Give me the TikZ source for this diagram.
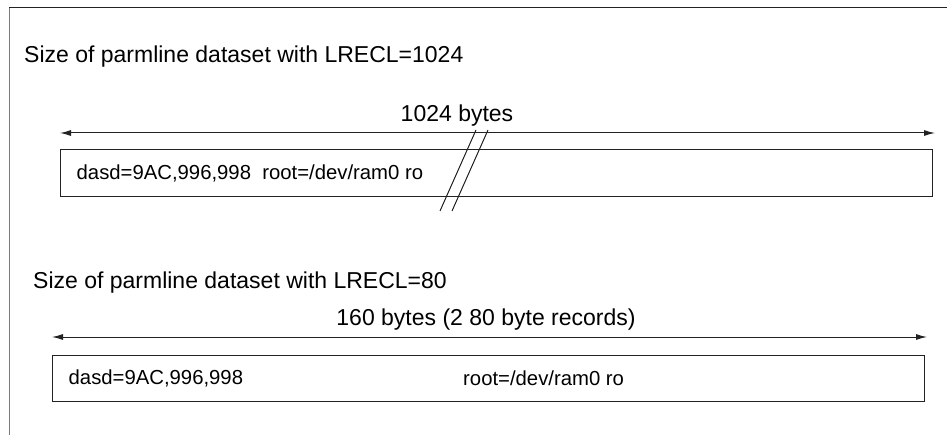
\documentclass[tikz,border=0pt]{standalone}
\usepackage{fontspec}
\setmainfont{Liberation Sans}
\usetikzlibrary{arrows.meta}
\definecolor{framegray}{HTML}{7A7A7A}
\definecolor{linedark}{HTML}{222222}

\begin{document}
\begin{tikzpicture}[x=1pt, y=-1pt,
        txt/.style={font=\fontsize{23}{27}\selectfont, inner sep=0pt},
        rectxt/.style={font=\fontsize{20.3}{24}\selectfont, inner sep=0pt},
        recbox/.style={draw=linedark, line width=1pt, inner sep=0pt},
        dimarrow/.style={draw=linedark, line width=1pt, {Latex[length=11pt,width=6pt]}-{Latex[length=11pt,width=6pt]}},
      ]
      \useasboundingbox (0,0) rectangle (947,435);
      \draw[framegray, line width=1pt] (9,435) -- (9,8);
      \draw[linedark, line width=1pt] (9,8) -- (947,8);
      % LRECL=1024
      \node[txt, anchor=west] (title1) at (24,57) {Size of parmline dataset with LRECL=1024};
      \coordinate (a1l) at (60,133);
      \coordinate (a1r) at (935,133);
      \draw[dimarrow] (a1l) -- (a1r);
      \node[txt] (len1) at (457,116) {1024 bytes};
      \node[recbox, minimum width=872pt, minimum height=47pt] (rec1) at (496,173.5) {};
      \node[rectxt, anchor=west] (val1) at ([xshift=17pt]rec1.west) {dasd=9AC,996,998\ \ root=/dev/ram0 ro};
      \draw[linedark, line width=1pt] (440,211) -- (476,130);
      \draw[linedark, line width=1pt] (452,211) -- (488,130);
      % LRECL=80
      \node[txt, anchor=west] (title2) at (33,283) {Size of parmline dataset with LRECL=80};
      \coordinate (a2l) at (52,337);
      \coordinate (a2r) at (927,337);
      \draw[dimarrow] (a2l) -- (a2r);
      \node[txt] (len2) at (486,320) {160 bytes (2 80 byte records)};
      \node[recbox, minimum width=872pt, minimum height=46pt] (rec2) at (488,378) {};
      \node[rectxt, anchor=west] (val2a) at ([xshift=17pt]rec2.west) {dasd=9AC,996,998};
      \node[rectxt, anchor=west] (val2b) at (463,378) {root=/dev/ram0 ro};
    \end{tikzpicture}
\end{document}
